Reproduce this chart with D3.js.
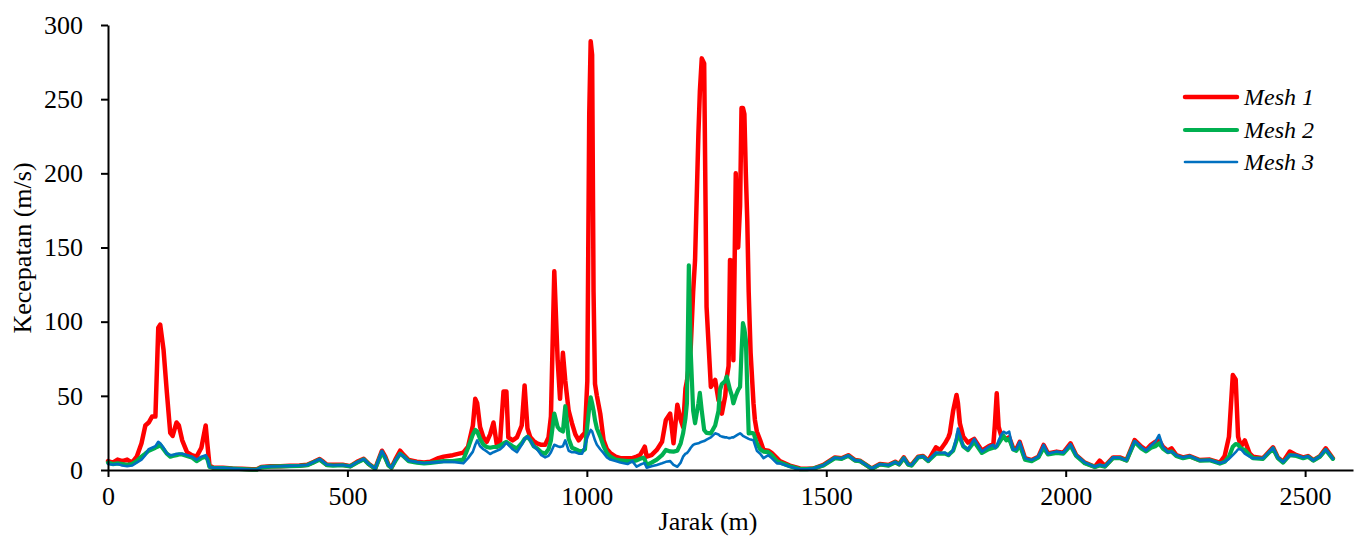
<!DOCTYPE html>
<html>
<head>
<meta charset="utf-8">
<script src="https://cdn.jsdelivr.net/npm/d3@7/dist/d3.min.js"></script>
<style>
  html, body { margin: 0; padding: 0; background: #fff; }
  svg { display: block; }
  text { font-family: "Liberation Serif", "Times New Roman", serif; fill: #000; }
</style>
</head>
<body>
<svg id="chart" width="1362" height="538"></svg>
<script>
// Distance along the profile (m)
const jarak = [
  0, 10, 20, 30, 40, 50, 60, 70, 78, 85, 92, 99, 105, 109, 116, 123, 130, 135, 143, 148,
  155, 165, 175, 185, 195, 204, 208, 212, 220, 240, 260, 280, 300, 311, 320, 340, 360, 380, 400, 416,
  430, 442, 450, 457, 470, 490, 506, 520, 534, 545, 558, 572, 579, 586, 592, 600, 610, 618, 628, 645,
  660, 673, 690, 701, 720, 742, 752, 762, 767, 771, 777, 784, 791, 798, 805, 812, 819, 826, 832, 836,
  845, 854, 864, 870, 876, 882, 889, 896, 905, 913, 920, 925, 932, 939, 944, 950, 955, 962, 969, 976,
  983, 990, 996, 1001, 1005, 1008, 1011, 1014, 1017, 1021, 1028, 1035, 1042, 1049, 1060, 1070, 1085, 1095, 1104, 1111,
  1118, 1121, 1125, 1135, 1146, 1157, 1165, 1174, 1181, 1189, 1196, 1201, 1206, 1209, 1213, 1217, 1222, 1226, 1233, 1236,
  1240, 1245, 1250, 1259, 1268, 1275, 1278, 1282, 1289, 1292, 1296, 1299, 1303, 1306, 1311, 1316, 1320, 1323, 1326, 1329,
  1332, 1335, 1338, 1342, 1348, 1351, 1355, 1362, 1369, 1379, 1386, 1397, 1403, 1424, 1445, 1460, 1473, 1494, 1518, 1532,
  1546, 1560, 1570, 1595, 1612, 1630, 1644, 1652, 1662, 1671, 1678, 1692, 1702, 1713, 1729, 1738, 1748, 1755, 1758, 1765,
  1772, 1775, 1779, 1786, 1796, 1809, 1825, 1839, 1849, 1852, 1856, 1860, 1866, 1870, 1876, 1882, 1890, 1897, 1904, 1915,
  1929, 1943, 1954, 1963, 1981, 1995, 2010, 2022, 2040, 2061, 2071, 2082, 2099, 2113, 2127, 2144, 2158, 2168, 2178, 2187,
  2195, 2203, 2213, 2221, 2231, 2245, 2259, 2280, 2301, 2322, 2332, 2341, 2349, 2355, 2360, 2366, 2374, 2384, 2391, 2412,
  2433, 2443, 2454, 2468, 2482, 2496, 2506, 2517, 2531, 2543, 2558
];

// Velocity (m/s) for each mesh
const mesh1 = [
  6, 5, 7, 6, 7, 5, 9, 18, 30, 32, 36, 36, 96, 98, 81, 52, 25, 23, 32, 30,
  20, 12, 10, 9, 15, 30, 16, 3, 1.5, 1.5, 1, 0.8, 0.5, 0.5, 2, 2.5, 2.5, 2.8, 3, 3.5,
  5.5, 7.4, 5.5, 3.5, 3.5, 3.5, 2.6, 5.5, 7.6, 4, 1, 13, 9, 3.3, 1.7, 7, 13, 10, 6.7, 5.6,
  5, 5.6, 8, 9, 10, 11.7, 15.8, 30, 48, 45, 29, 22, 19, 24, 32, 17, 20, 53, 53, 22,
  20, 22, 30, 57, 28, 22, 19.5, 18, 17, 17, 22, 36, 134, 74, 48, 79, 60, 40, 31.5, 24,
  20, 23, 25, 60, 240, 289, 280, 120, 58, 50, 38, 20, 14, 11.4, 9, 8, 8, 8, 9, 10,
  14, 15.7, 9, 10, 13.5, 19, 33.7, 38, 18, 44, 33.7, 29, 55, 60, 70, 83, 120, 141.6, 227, 255,
  277.5, 274, 110, 56, 60.7, 47, 45, 38, 50, 62, 70, 141.6, 141, 74, 200, 150, 178, 244, 244, 240,
  200, 168.5, 120, 79, 45, 33.7, 26, 20, 13.5, 13, 11.5, 8, 6, 3, 1, 0.8, 1, 3.4, 8.5, 7.9,
  10, 6.7, 6.3, 1, 4, 3.4, 5.6, 4, 8.5, 4, 3.4, 9, 9.4, 6.3, 15.3, 13.5, 18, 22, 24.7, 40,
  50.6, 45, 31.5, 22.5, 18.5, 21, 13, 16, 17.5, 30, 51.7, 29, 22.5, 22, 21, 22, 15, 14, 19, 8,
  6.7, 9, 16.9, 11.2, 12.4, 11.7, 18, 10, 5, 2.2, 6.3, 2.7, 8.5, 8.5, 6.7, 20.2, 15.7, 13.5, 17, 19,
  20, 15.7, 13, 14.6, 10, 8.5, 9.4, 6.7, 7, 5, 9.4, 22.5, 64, 61, 22.5, 15.7, 20, 11.2, 9, 7.9,
  15.3, 8.5, 5.6, 12.4, 10, 8.5, 9.4, 6.7, 9.4, 14.6, 7.9
];
const mesh2 = [
  5, 4, 4.5, 4, 3.5, 4, 6, 9, 11, 13, 14, 15, 16, 17, 14, 11, 9, 9.5, 10, 10.5,
  10.5, 9.5, 8.5, 6, 8, 9, 7, 2, 1.5, 1.2, 1, 0.6, 0.3, 0.2, 1.8, 2.3, 2.4, 2.6, 2.8, 3.2,
  5.2, 7, 5, 3.3, 3, 3.2, 2.4, 5, 7.2, 3.8, 0.8, 12, 8, 3, 1.5, 6, 11, 9, 6, 5,
  4.5, 4.8, 5.5, 6, 6, 7, 15, 24, 27, 26, 21, 17, 15.5, 15, 15.5, 15.5, 16.5, 18, 19, 18,
  16, 14.6, 18, 21, 22.5, 20, 16, 14.6, 12, 11, 14, 20, 38, 29, 27, 26, 43, 21, 15, 14,
  13, 12.5, 14, 30, 42, 49, 45, 40, 33.7, 28, 22.5, 16, 11.4, 9, 7, 6.5, 6, 6, 6.5, 7.5,
  8.3, 7, 3.4, 5, 7, 10, 13.5, 12.5, 12.4, 13, 18, 24.7, 35, 45, 138, 79, 40, 31.5, 45, 52,
  40, 27, 25, 24.7, 30, 40, 54, 58, 60, 63, 58, 54, 50, 45, 50, 54, 56, 80, 99, 95,
  88, 55, 24.7, 25, 24.7, 22, 18, 14, 12.4, 12, 10, 6, 5, 2.5, 0.6, 0.6, 1, 3, 8, 7.5,
  9.5, 6.3, 6, 0.8, 3.7, 3, 5.2, 3.7, 8, 3.6, 3, 8.5, 9, 6, 11, 11, 11, 10, 11, 13,
  20, 25, 22, 16, 13.5, 19, 11.5, 14, 15, 15, 16, 18, 21, 23, 20, 21, 14, 13, 17, 7,
  6, 8.5, 15, 10.5, 11.5, 11, 16.5, 9.5, 4.5, 2, 3, 2.3, 8, 8, 6.3, 19, 14.5, 12.5, 15, 16,
  18, 14.5, 12, 12.5, 9.5, 8, 9, 6.3, 6.5, 4.3, 5.5, 9, 15.7, 17.5, 17, 14.5, 13.5, 10, 8, 7.5,
  14.5, 8, 5, 10, 9.5, 8, 9, 6.3, 9, 13.5, 7.5
];
const mesh3 = [
  4, 3.5, 4, 3, 2.5, 3, 5, 7, 10, 14, 15, 16, 19, 18, 15, 11, 10, 10, 11, 11,
  11, 10, 9, 7, 9, 10, 7, 2, 1.5, 1.5, 1, 0.6, 0.3, 0.3, 2, 2.4, 2.5, 2.8, 3, 3.4,
  5.5, 7.4, 5.4, 3.5, 3.2, 3.4, 2.5, 5.3, 7.4, 4, 1, 13, 8.5, 3.2, 1.6, 6.5, 11, 9, 6.3, 5.3,
  4.6, 5, 5.3, 5.5, 5.5, 4.5, 8, 12.4, 17, 20, 16, 14, 12.5, 10.8, 12, 13, 14, 16, 18.5, 17,
  14, 12, 17, 21, 22.5, 20, 16, 14, 10, 8.5, 9.5, 12, 17, 16, 15.5, 16, 20, 13, 12, 12,
  11, 11, 16, 22, 25, 27, 26, 23, 20, 17, 14, 11.4, 8.5, 7, 6, 5, 4, 6, 2.2, 3.5,
  4.5, 4.5, 1.5, 2.5, 3.4, 4.5, 5.5, 6, 3.5, 2.2, 5, 9, 11, 11.4, 13, 15, 16.9, 17.5, 18, 18.5,
  19, 19.5, 20.5, 22, 24.7, 24, 23, 22.5, 22, 22, 21.5, 21.5, 22, 22, 23, 24, 24.7, 24, 23, 22.5,
  22, 21.5, 21, 20.5, 20, 17, 13, 11, 8, 10, 8, 4.5, 4.5, 2.2, 0.5, 0.6, 1, 3.2, 8.3, 7.8,
  9.8, 6.5, 6.2, 1, 3.9, 3.2, 5.4, 3.8, 8.3, 3.8, 3.2, 8.8, 9.2, 6.2, 11.7, 11.5, 11.7, 10, 11, 13.5,
  22, 28, 24, 16, 14, 21, 12.4, 15.7, 17, 15, 16, 20, 24, 25.8, 24.7, 25.8, 13.5, 14, 19, 8,
  6.7, 9, 16.9, 11, 12.4, 11.7, 17.5, 10, 5, 2.2, 3.5, 2.5, 8.5, 8.3, 6.5, 19.5, 15.5, 13, 16.5, 19,
  23.6, 15.7, 12, 12.5, 10, 8.5, 9.4, 6.5, 6.8, 4.5, 5.5, 7.5, 10, 12, 14, 14, 11, 9, 7.9, 7.9,
  15, 8.3, 5.4, 10, 10, 8.4, 9.2, 6.5, 9.2, 14, 7.6
];

const seriesNames = ["Mesh 1", "Mesh 2", "Mesh 3"];
const seriesValues = [mesh1, mesh2, mesh3];
const xTicks = [0, 500, 1000, 1500, 2000, 2500];
const yTicks = [0, 50, 100, 150, 200, 250, 300];

(function drawChart() {
  const colors = ["#ff0000", "#00b050", "#0070c0"];
  const widths = [4.5, 4.2, 2.6];

  const svg = d3.select("#chart");
  const plot = { left: 108, right: 1353, top: 25, bottom: 470 };

  const x = d3.scaleLinear().domain([0, 2600]).range([plot.left, plot.right]);
  const y = d3.scaleLinear().domain([0, 300]).range([plot.bottom, plot.top]);

  // Series lines (Mesh 1 underneath, Mesh 3 on top)
  const line = d3.line()
    .x((d) => x(d[0]))
    .y((d) => y(d[1]))
    .curve(d3.curveLinear);

  seriesValues.forEach((vals, i) => {
    const pts = jarak.map((j, k) => [j, vals[k]]);
    svg.append("path")
      .datum(pts)
      .attr("d", line)
      .attr("fill", "none")
      .attr("stroke", colors[i])
      .attr("stroke-width", widths[i])
      .attr("stroke-linejoin", "round")
      .attr("stroke-linecap", "round");
  });

  // Axes (plain integer labels, no thousands separator)
  const fmt = d3.format("d");
  const xAxis = d3.axisBottom(x).tickValues(xTicks).tickFormat(fmt)
    .tickSize(7).tickPadding(10).tickSizeOuter(0);
  const yAxis = d3.axisLeft(y).tickValues(yTicks).tickFormat(fmt)
    .tickSize(7).tickPadding(18).tickSizeOuter(0);

  const gx = svg.append("g").attr("transform", `translate(0,${plot.bottom})`).call(xAxis);
  const gy = svg.append("g").attr("transform", `translate(${plot.left},0)`).call(yAxis);

  [gx, gy].forEach((g) => {
    g.selectAll("path.domain").attr("stroke", "#000").attr("stroke-width", 2);
    g.selectAll(".tick line").attr("stroke", "#000").attr("stroke-width", 2);
    g.selectAll(".tick text")
      .attr("font-family", "'Liberation Serif', 'Times New Roman', serif")
      .attr("font-size", 26)
      .attr("fill", "#000");
  });

  // Axis titles
  svg.append("text")
    .attr("x", 708)
    .attr("y", 530)
    .attr("text-anchor", "middle")
    .attr("font-size", 26)
    .text("Jarak (m)");

  svg.append("text")
    .attr("transform", "translate(31,248) rotate(-90)")
    .attr("text-anchor", "middle")
    .attr("font-size", 26)
    .text("Kecepatan (m/s)");

  // Legend
  const legendY = [97, 130, 162];
  const legend = svg.append("g");
  seriesNames.forEach((name, i) => {
    legend.append("line")
      .attr("x1", 1185).attr("x2", 1237)
      .attr("y1", legendY[i]).attr("y2", legendY[i])
      .attr("stroke", colors[i])
      .attr("stroke-width", widths[i])
      .attr("stroke-linecap", "round");
    legend.append("text")
      .attr("x", 1244)
      .attr("y", legendY[i] + 8)
      .attr("font-size", 24)
      .attr("font-style", "italic")
      .text(name);
  });
})();
</script>
</body>
</html>
